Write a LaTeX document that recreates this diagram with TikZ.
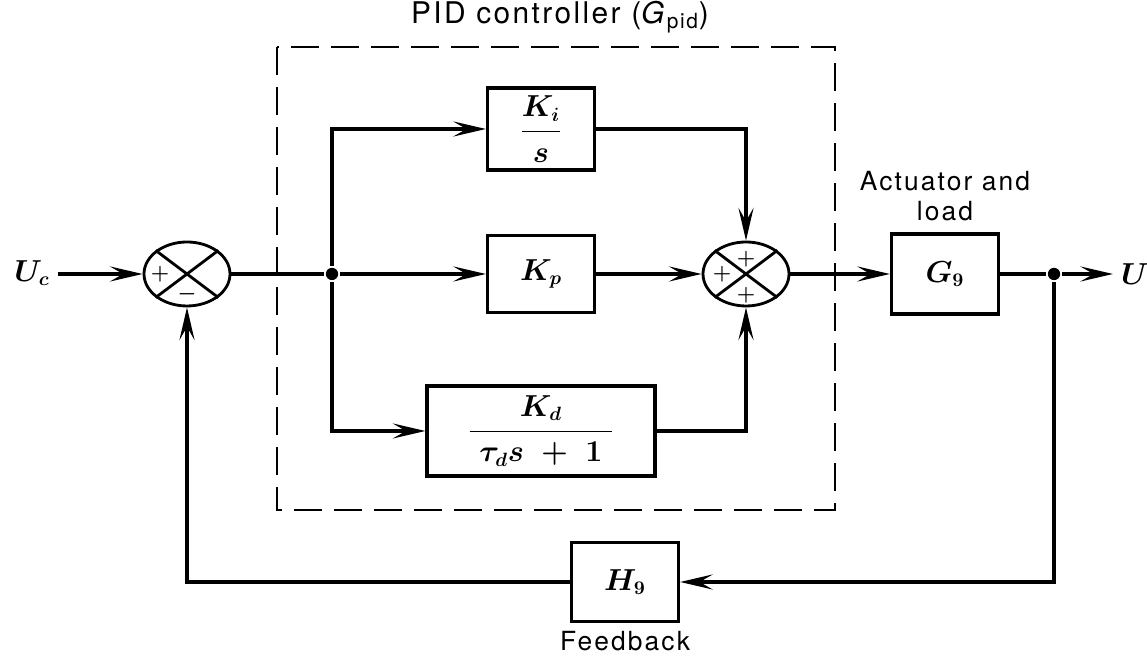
\documentclass[tikz,border=0pt]{standalone}
\usepackage[no-math]{fontspec}
\setmainfont{TeX Gyre Heros}[LetterSpace=8]
\usepackage{bm}
\usetikzlibrary{shapes.geometric,arrows.meta,positioning}

\begin{document}
\begin{tikzpicture}[>={Stealth[length=6.5mm,width=3mm,inset=2.6mm]},line width=2.2pt,
  blk/.style={draw,line width=1.8pt,minimum width=2.14cm,minimum height=1.58cm,
    font=\fontsize{16}{19}\selectfont},
  sumj/.style={draw,ellipse,line width=1.6pt,minimum width=1.72cm,minimum height=1.28cm,inner sep=0pt},
  sgn/.style={font=\fontsize{13}{13}\selectfont,inner sep=0pt},
  lbl/.style={font=\fontsize{15}{17}\selectfont,align=center},
  sym/.style={font=\fontsize{16}{19}\selectfont,inner sep=1pt},
  dot/.style={circle,fill,inner sep=0pt,minimum size=7pt}]
  \useasboundingbox (0,0) rectangle (22.94,13.2);
  % controller frame
  \draw[line width=1.4pt,dash pattern=on .56cm off .24cm] (5.54,12.26) rectangle (16.7,3.0);
  \node[lbl,font=\fontsize{17}{19}\selectfont] (title) at (11.2,12.86) {PID controller (\textit{G}\textsubscript{pid})};
  % junctions
  \node[sumj] (s1) at (3.74,7.72) {};
  \draw[line width=1.6pt] (s1.north east) -- (s1.south west) (s1.north west) -- (s1.south east);
  \node[sgn] at ([xshift=-.54cm]s1.center) {$\bm{+}$};
  \node[sgn] at ([yshift=-.4cm]s1.center) {$\bm{-}$};
  \node[sumj] (s2) at (14.92,7.72) {};
  \draw[line width=1.6pt] (s2.north east) -- (s2.south west) (s2.north west) -- (s2.south east);
  \node[sgn] at ([yshift=.3cm]s2.center) {$\bm{+}$};
  \node[sgn] at ([xshift=-.48cm]s2.center) {$\bm{+}$};
  \node[sgn] at ([yshift=-.42cm]s2.center) {$\bm{+}$};
  % blocks
  \node[blk,minimum height=1.64cm] (ki) at (10.82,10.62) {$\bm{\displaystyle\frac{K_i}{s}}$};
  \node[blk,minimum height=1.54cm] (kp) at (10.82,7.72) {$\bm{K_p}$};
  \node[blk,minimum width=4.56cm,minimum height=1.8cm] (kd) at (10.82,4.58)
    {$\bm{\displaystyle\frac{K_d}{\;\tau_d s\;+\;1\;}}$};
  \node[blk,minimum height=1.6cm] (g) at (18.9,7.72) {$\bm{G_9}$};
  \node[blk] (h) at (12.5,1.56) {$\bm{H_9}$};
  \node[lbl,above=2pt of g] (act) {Actuator and\\load};
  \node[lbl,below=0pt of h] (fb) {Feedback};
  % branch points and ends
  \node[dot] (p) at (6.64,7.72) {};
  \node[dot] (q) at (21.08,7.72) {};
  \node[sym] (uc) at (.64,7.74) {$\bm{U_c}$};
  \node[sym] (u) at (22.7,7.72) {$\bm{U}$};
  \coordinate (ucend) at (1.16,7.72);
  \coordinate (uend) at (22.26,7.72);
  % signal lines
  \draw[->] (ucend) -- (s1.west);
  \draw (s1.east) -- (p);
  \draw[->] (p) -- (kp.west);
  \draw[->] (p) |- (ki.west);
  \draw[->] (p) |- (kd.west);
  \draw[->] (kp.east) -- (s2.west);
  \draw[->] (ki.east) -| (s2.north);
  \draw[->] (kd.east) -| (s2.south);
  \draw[->] (s2.east) -- (g.west);
  \draw (g.east) -- (q);
  \draw[->] (q) -- (uend);
  \draw[->] (q) |- (h.east);
  \draw[->] (h.west) -| (s1.south);
\end{tikzpicture}
\end{document}
